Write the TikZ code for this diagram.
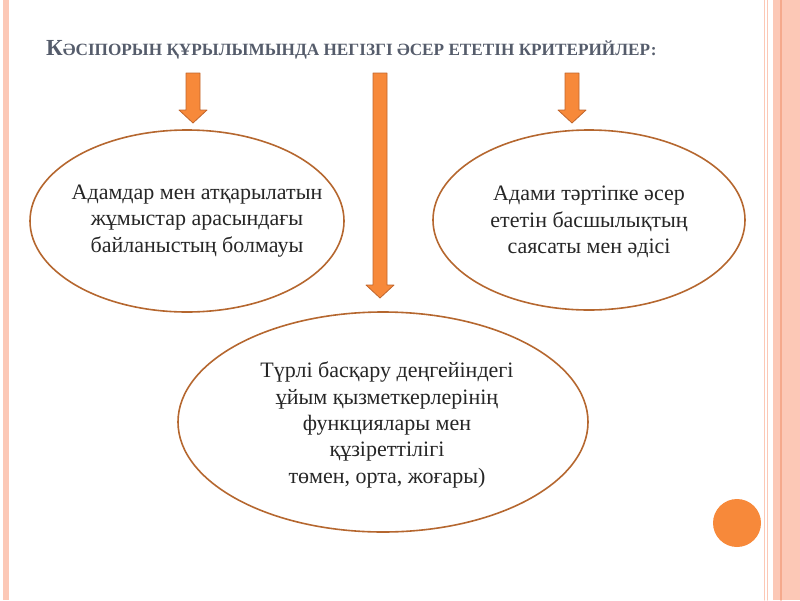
\documentclass[tikz,border=0pt]{standalone}
\usepackage{fontspec}
\setmainfont{Liberation Serif}
\usetikzlibrary{shapes.geometric}
\definecolor{arrfill}{HTML}{F7893A}
\definecolor{arrline}{HTML}{C0652C}
\definecolor{ellline}{HTML}{B5672F}
\definecolor{titlegray}{HTML}{555C6B}
\definecolor{pinkband}{HTML}{FCC8B6}
\definecolor{pinkdark}{HTML}{F5A98C}
\begin{document}
\begin{tikzpicture}[x=1pt, y=-1pt, line join=round, line cap=round,
	crit/.style={ellipse, draw=ellline, line width=1.6pt, inner sep=0pt},
	crittext/.style={align=center, inner sep=0pt, text=black!85, font=\fontsize{22}{26.3}\selectfont},
	blockarr/.style={fill=arrfill, draw=arrline, line width=0.8pt}]
	\useasboundingbox (0,0) rectangle (800,600);
	\fill[pinkband] (3,0) rectangle (9,600);
	\fill[pinkband] (773,0) rectangle (800,600);
	\draw[pinkdark, line width=1.5pt] (781,0)--(781,600);
	\foreach \x in {764.5,767.5} \draw[pinkband, line width=1pt] (\x,0)--(\x,600);
	\fill[arrfill] (737,523) circle (24pt);
	\node[anchor=base west, inner sep=0pt, text=titlegray, font=\bfseries] (title) at (46,55) {{\fontsize{23}{26}\selectfont К}\fontsize{17.2}{20}\selectfont ӘСІПОРЫН ҚҰРЫЛЫМЫНДА НЕГІЗГІ ӘСЕР ЕТЕТІН КРИТЕРИЙЛЕР:};
	\node[crit, minimum width=314, minimum height=182] (people) at (187,221) {};
	\node[crit, minimum width=312, minimum height=180] (policy) at (589,220) {};
	\node[crit, minimum width=410, minimum height=220] (levels) at (383,422) {};
	\node[crittext] (peopletxt) at ([xshift=10pt]people.center) {Адамдар мен атқарылатын\\жұмыстар арасындағы\\байланыстың болмауы};
	\node[crittext] (policytxt) at ([yshift=-2pt]policy.center) {Адами тәртіпке әсер\\ететін басшылықтың\\саясаты мен әдісі};
	\node[crittext] (levelstxt) at ([xshift=4pt,yshift=-3pt]levels.center) {Түрлі басқару деңгейіндегі\\ұйым қызметкерлерінің\\функциялары мен\\құзіреттілігі\\төмен, орта, жоғары)};
	\foreach \x/\tip in {193/123, 380/298, 572/123}
		\draw[blockarr] (\x-7,73) -- (\x+7,73) -- (\x+7,\tip-13) -- (\x+14,\tip-13) -- (\x,\tip) -- (\x-14,\tip-13) -- (\x-7,\tip-13) -- cycle;
\end{tikzpicture}
\end{document}
